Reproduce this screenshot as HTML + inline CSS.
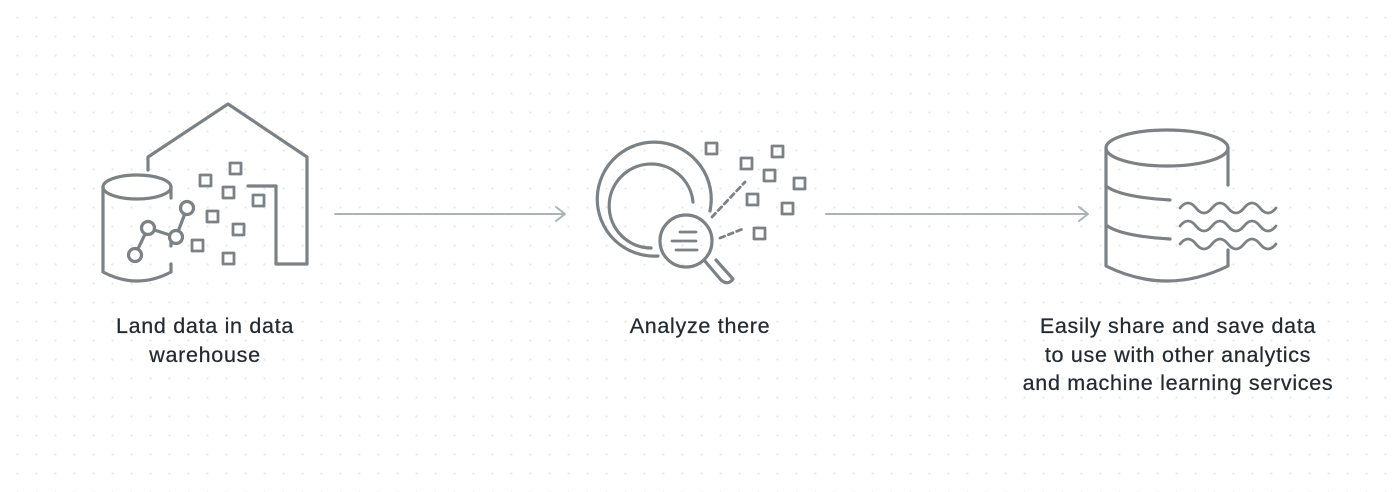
<html><head><style>
body{margin:0;width:1394px;height:492px;overflow:hidden;background:#fff;
background-image:radial-gradient(circle,#e4e6e8 1px,transparent 1.3px);background-size:19px 19px;background-position:8px 8px;font-family:"Liberation Sans",sans-serif}
.t{position:absolute;text-align:center;font-size:21.5px;letter-spacing:0.7px;line-height:28.5px;color:#232a30;-webkit-text-stroke:0.25px #232a30}
</style></head><body>
<svg width="1394" height="492" style="position:absolute;left:0;top:0" fill="none" stroke="#7b8185" stroke-width="3.2" stroke-linecap="round" stroke-linejoin="round">
<path d="M148 170V157L228 104L307 157V264H276V186H248"/>
<ellipse cx="137" cy="187" rx="34" ry="12" fill="#fff"/>
<path d="M103 187V272Q137 290 171 272V264M171 187V198M171 242V246"/>
<path d="M135 255L148 228L176 237L187 208" />
<g fill="#fff"><circle cx="135" cy="255" r="6.5"/><circle cx="148" cy="228" r="6.5"/><circle cx="176" cy="237" r="6.5"/><circle cx="187" cy="208" r="6.5"/></g>
<g stroke-width="2.8"><rect x="230" y="163" width="11" height="11"/><rect x="200" y="175" width="11" height="11"/><rect x="223" y="187" width="11" height="11"/><rect x="253" y="195" width="11" height="11"/><rect x="207" y="211" width="11" height="11"/><rect x="233" y="224" width="11" height="11"/><rect x="192" y="240" width="11" height="11"/><rect x="223" y="253" width="11" height="11"/></g>
<path d="M335 214H565M556 207L565 214L556 221M826 214H1088M1079 207L1088 214L1079 221" stroke="#a9b4b4" stroke-width="2"/>
<path d="M710 211A57 57 0 1 0 658 256"/>
<path d="M693 202A42 42 0 1 0 651 248"/>
<circle cx="686" cy="241" r="26"/>
<path d="M704 260L721 280Q728 286 733 279L716 260"/>
<path d="M680 232H696M672 241H696M676 250H697" stroke-width="2.8"/>
<path d="M712 217L745 182M720 238L745 228" stroke-dasharray="5 4" stroke-width="2.8"/>
<g stroke-width="2.8"><rect x="706" y="143" width="11" height="11"/><rect x="741" y="158" width="11" height="11"/><rect x="772" y="146" width="11" height="11"/><rect x="764" y="170" width="11" height="11"/><rect x="794" y="178" width="11" height="11"/><rect x="747" y="194" width="11" height="11"/><rect x="782" y="203" width="11" height="11"/><rect x="754" y="228" width="11" height="11"/></g>
<ellipse cx="1167" cy="148" rx="61" ry="18"/>
<path d="M1106 148V266Q1167 296 1228 266V250M1228 148V185M1106 186Q1120 197 1170 200M1106 225Q1120 236 1170 239"/>
<path d="M1180 208q8-10 16 0t16 0t16 0t16 0t16 0t16 0M1180 226q8-10 16 0t16 0t16 0t16 0t16 0t16 0M1180 244q8-10 16 0t16 0t16 0t16 0t16 0t16 0" stroke-width="2.8"/>
</svg>
<div class="t" style="left:55px;width:300px;top:312px">Land data in data<br>warehouse</div>
<div class="t" style="left:550px;width:300px;top:312px">Analyze there</div>
<div class="t" style="left:978px;width:400px;top:312px">Easily share and save data<br>to use with other analytics<br>and machine learning services</div>
</body></html>
